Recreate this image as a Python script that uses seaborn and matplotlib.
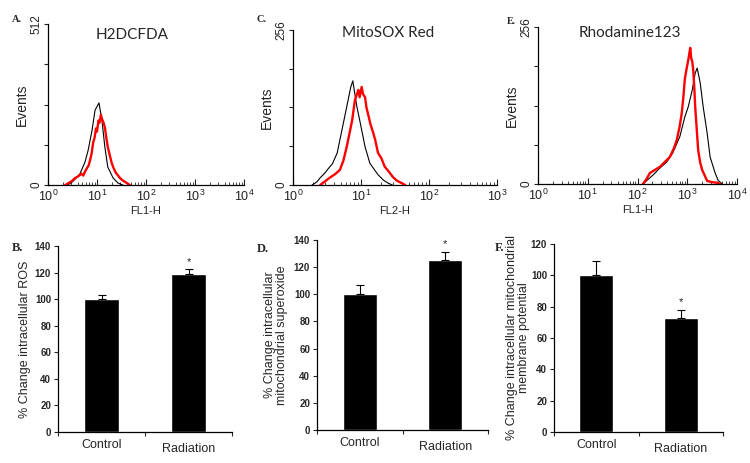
import matplotlib
matplotlib.use("Agg")
import matplotlib.pyplot as plt
import matplotlib.transforms as mtransforms
import numpy as np
import pandas as pd
import seaborn as sns

# flow histograms: log10 fluorescence vs events
a_ctrl_log = [0.40, 0.48, 0.55, 0.65, 0.755, 0.82, 0.90, 0.96, 1.04, 1.10, 1.16, 1.22, 1.33, 1.43, 1.53]
a_ctrl_n = [0, 8, 18, 35, 73, 111, 175, 238, 261, 207, 121, 57, 22, 6, 0]
a_rad_log = [0.35, 0.42, 0.50, 0.55, 0.62, 0.68, 0.72, 0.75, 0.80, 0.83, 0.86, 0.89, 0.92, 0.95,
             0.98, 1.00, 1.03, 1.05, 1.08, 1.10, 1.13, 1.16, 1.19, 1.22, 1.26, 1.30, 1.33, 1.38,
             1.43, 1.47, 1.53, 1.61, 1.67]
a_rad_n = [0, 6, 14, 22, 28, 36, 30, 41, 55, 62, 80, 100, 134, 150, 180, 170, 205, 198, 223, 210,
           200, 184, 150, 121, 95, 70, 57, 40, 30, 22, 14, 6, 0]

c_ctrl_log = [0.28, 0.35, 0.40, 0.47, 0.54, 0.58, 0.65, 0.72, 0.79, 0.85, 0.88, 0.91, 0.94, 0.99,
              1.06, 1.13, 1.25, 1.33, 1.40, 1.46]
c_ctrl_n = [0, 5, 12, 20, 30, 35, 53, 91, 129, 162, 172, 150, 129, 102, 63, 36, 17, 8, 3, 0]
c_rad_log = [0.40, 0.47, 0.54, 0.62, 0.69, 0.74, 0.79, 0.83, 0.87, 0.91, 0.94, 0.96, 0.98, 1.01,
             1.03, 1.06, 1.08, 1.10, 1.14, 1.18, 1.21, 1.25, 1.30, 1.35, 1.41, 1.47, 1.53, 1.60, 1.65]
c_rad_n = [0, 6, 12, 18, 25, 40, 63, 85, 107, 140, 150, 157, 145, 162, 150, 145, 128, 119, 100,
           86, 74, 53, 44, 30, 22, 13, 7, 3, 0]

e_ctrl_log = [2.11, 2.22, 2.33, 2.45, 2.59, 2.71, 2.85, 2.95, 3.02, 3.10, 3.16, 3.20, 3.26, 3.32,
              3.40, 3.46, 3.56, 3.62, 3.70]
e_ctrl_n = [0, 8, 16, 26, 36, 51, 77, 109, 126, 153, 181, 189, 165, 126, 83, 44, 18, 6, 0]
e_rad_log = [2.11, 2.18, 2.25, 2.35, 2.45, 2.55, 2.65, 2.73, 2.79, 2.85, 2.89, 2.92, 2.95, 2.98,
             3.02, 3.04, 3.06, 3.08, 3.10, 3.12, 3.14, 3.16, 3.19, 3.22, 3.26, 3.30, 3.40, 3.50,
             3.60, 3.66]
e_rad_n = [0, 8, 18, 23, 28, 36, 44, 58, 72, 95, 116, 140, 170, 185, 202, 212, 222, 205, 200,
           186, 160, 126, 90, 55, 35, 23, 5, 3, 2, 0]

# bar charts
groups = ["Control", "Radiation"]
ros_mean = [100, 119]
ros_err = [3, 4]
sox_mean = [100, 125.5]
sox_err = [7, 6]
rho_mean = [100, 73]
rho_err = [9, 5]

sns.set_style("white")
plt.rcParams["font.family"] = ["Liberation Sans", "DejaVu Sans"]
plt.rcParams["mathtext.default"] = "regular"

fig = plt.figure(figsize=(7.5, 4.63), dpi=100)
W, H = 750, 463


def px_axes(left, top, right, bottom):
    return fig.add_axes([left / W, 1 - bottom / H, (right - left) / W, (bottom - top) / H])


def hist_panel(ax, ctrl_log, ctrl_n, rad_log, rad_n, ymax, ndec, title, tx, ty, xlabel):
    sns.lineplot(x=10 ** np.array(ctrl_log), y=ctrl_n, color="black", lw=0.8,
                 estimator=None, sort=False, ax=ax)
    sns.lineplot(x=10 ** np.array(rad_log), y=rad_n, color="red", lw=1.7,
                 estimator=None, sort=False, ax=ax)
    ax.set_xscale("log")
    ax.set_xlim(1, 10 ** ndec)
    ax.set_ylim(0, ymax)
    yt = np.linspace(0, ymax, 5)
    ax.set_yticks(yt, ["0", "", "", "", str(ymax)])
    for lbl in ax.get_yticklabels():
        lbl.set_rotation(90)
        lbl.set_va("center")
    sns.despine(ax=ax)
    for s in ["left", "bottom"]:
        ax.spines[s].set_linewidth(0.9)
        ax.spines[s].set_color("black")
    ax.tick_params(axis="x", which="major", direction="in", length=4, width=0.8,
                   labelsize=9, pad=3, colors="#222222", bottom=True)
    ax.tick_params(axis="x", which="minor", direction="in", length=2.5, width=0.6, bottom=True)
    ax.tick_params(axis="y", direction="out", length=3, width=0.8, labelsize=8.5, pad=1,
                   colors="#222222", left=True)
    ax.set_xlabel(xlabel, fontsize=8, color="#222222", labelpad=1)
    ax.set_ylabel("Events", fontsize=10, color="#222222", labelpad=1)
    ax.text(tx, ty, title, transform=ax.transAxes, ha="center", va="center",
            fontsize=11, family="Lato")


def bar_panel(ax, means, errs, ymax, ylabel, label_x):
    df = pd.DataFrame({"group": groups, "value": means})
    sns.barplot(data=df, x="group", y="value", color="black", saturation=1, width=0.4,
                errorbar=None, ax=ax)
    pos = np.arange(len(groups))
    ax.errorbar(pos, means, yerr=[np.zeros(len(errs)), errs], fmt="none", ecolor="black",
                elinewidth=0.8, capsize=3, capthick=0.8)
    ax.text(pos[1], means[1] + errs[1] + 1.5, "*", ha="center", va="bottom", fontsize=8)
    ax.set_xlim(-0.5, len(groups) - 0.5)
    ax.set_ylim(0, ymax)
    ax.set_yticks(np.arange(0, ymax + 1, 20))
    ax.set_xticks(pos, groups)
    ax.set_xticks([-0.5, 0.5, 1.5], minor=True)
    sns.despine(ax=ax)
    for s in ["left", "bottom"]:
        ax.spines[s].set_linewidth(0.9)
        ax.spines[s].set_color("black")
    ax.tick_params(axis="x", which="major", length=0, labelsize=9, pad=5)
    ax.tick_params(axis="x", which="minor", direction="out", length=3, width=0.8, bottom=True)
    ax.tick_params(axis="y", direction="out", length=3, width=0.8, labelsize=7, pad=2, left=True)
    for lbl in ax.get_yticklabels():
        lbl.set_fontweight("bold")
    off = mtransforms.ScaledTranslation(0, -3 / 72, fig.dpi_scale_trans)
    rl = ax.get_xticklabels()[1]
    rl.set_transform(rl.get_transform() + off)
    ax.set_xlabel("")
    ax.set_ylabel(ylabel, fontsize=9, linespacing=1.0)
    ax.yaxis.set_label_coords(label_x, 0.5)


ax_a = px_axes(48, 24, 244, 185)
hist_panel(ax_a, a_ctrl_log, a_ctrl_n, a_rad_log, a_rad_n, 512, 4, "H2DCFDA", 0.43, 0.93, "FL1-H")
ax_c = px_axes(293, 30, 497, 185)
hist_panel(ax_c, c_ctrl_log, c_ctrl_n, c_rad_log, c_rad_n, 256, 3, "MitoSOX Red", 0.466, 0.98, "FL2-H")
ax_e = px_axes(538, 27, 737, 184)
hist_panel(ax_e, e_ctrl_log, e_ctrl_n, e_rad_log, e_rad_n, 256, 4, "Rhodamine123", 0.46, 0.96, "FL1-H")

ax_b = px_axes(58, 246, 232, 432)
bar_panel(ax_b, ros_mean, ros_err, 140, "% Change intracellular ROS", -0.155)
ax_d = px_axes(317, 240, 488, 430)
bar_panel(ax_d, sox_mean, sox_err, 140, "% Change intracellular\nmitochondrial superoxide", -0.17)
ax_f = px_axes(554, 244, 723, 432)
bar_panel(ax_f, rho_mean, rho_err, 120, "% Change intracellular mitochondrial\nmembrane potential", -0.142)

# panel letters
for letter, x, y, size in [("A.", 17, 19, 7.5), ("C.", 262, 19, 7.5), ("E.", 511, 22, 7),
                           ("B.", 18, 248, 9), ("D.", 263, 249, 9), ("F.", 500, 248, 9)]:
    fig.text(x / W, 1 - y / H, letter, ha="center", va="center", fontsize=size,
             fontweight="bold", family="Liberation Serif")

fig.savefig("out.png", dpi=100)
